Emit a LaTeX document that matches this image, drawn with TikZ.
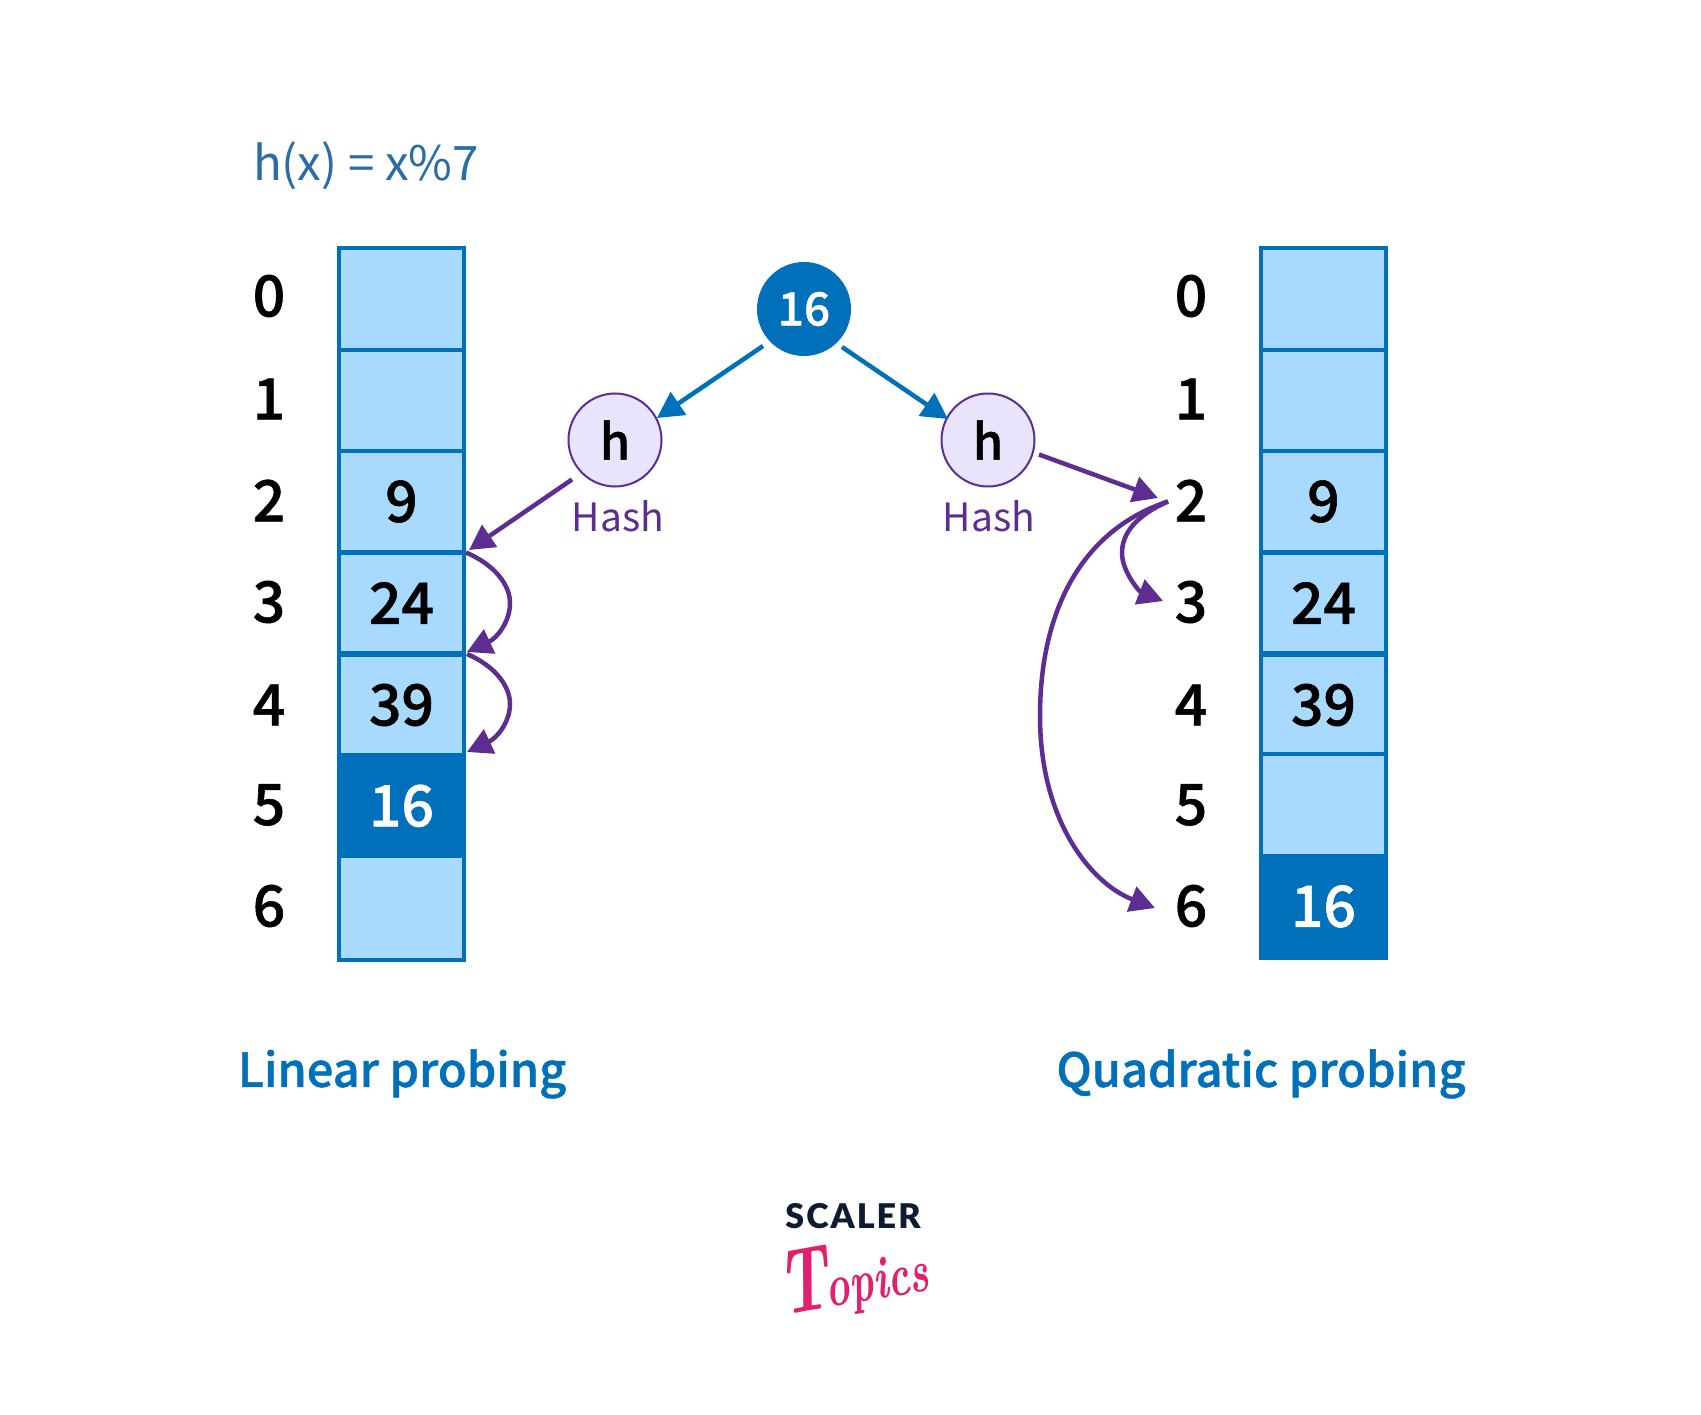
\documentclass[tikz,border=0pt]{standalone}
\usepackage{fontspec}
\setmainfont{Noto Sans CJK SC}
\newfontfamily\medf[FakeBold=1]{Noto Sans CJK SC Medium}
\newfontfamily\logof[LetterSpace=6]{Lato Black}
\newfontfamily\scriptf{Latin Modern Roman}[ItalicFont={Latin Modern Roman/BI}]
\usetikzlibrary{arrows.meta}
\definecolor{cellfill}{HTML}{A8DAFF}
\definecolor{blueline}{HTML}{0070BA}
\definecolor{purp}{HTML}{5E2D91}
\definecolor{hfill}{HTML}{E8E4FB}
\definecolor{formula}{HTML}{2A6CA5}
\definecolor{logodark}{HTML}{0D1B33}
\definecolor{logopink}{HTML}{E0206F}
\tikzset{
  x=1pt,y=-1pt,
  cellbox/.style={draw=blueline,line width=4.5pt,fill=cellfill,minimum width=125pt,inner sep=0pt,outer sep=0pt,font=\medf\fontsize{57}{57}\selectfont,text=black},
  darkbox/.style={cellbox,fill=blueline,text=white},
  idx/.style={inner sep=0pt,font=\medf\fontsize{57}{57}\selectfont,text=black},
  hcircle/.style={circle,draw=purp,line width=2pt,fill=hfill,minimum size=93pt,inner sep=0pt,outer sep=0pt,font=\medf\fontsize{49}{49}\selectfont,text=black},
  valcircle/.style={circle,fill=blueline,minimum size=94pt,inner sep=0pt,outer sep=0pt,font=\medf\fontsize{46}{46}\selectfont,text=white},
  hashlabel/.style={inner sep=0pt,text=purp,font=\fontsize{39}{39}\selectfont},
  title/.style={inner sep=0pt,text=blueline,font=\medf\fontsize{47}{47}\selectfont},
  bluearrow/.style={blueline,line width=4.5pt,-{Triangle[length=26pt,width=27pt]}},
  purparrow/.style={purp,line width=4.5pt,-{Triangle[length=25pt,width=26pt]}},
}
\begin{document}
\begin{tikzpicture}
\useasboundingbox[fill=white] (0,0) rectangle (1701,1415);

\node[inner sep=0pt,text=formula,font=\fontsize{47.5}{47.5}\selectfont] (formula) at (366,166) {h(x) = x\%7};

% left table
\node[cellbox,minimum height=102pt] (L0) at (401.5,299) {};
\node[cellbox,minimum height=101pt] (L1) at (401.5,400.5) {};
\node[cellbox,minimum height=101.5pt] (L2) at (401.5,501.5) {9};
\node[cellbox,minimum height=100.5pt] (L3) at (401.5,603) {24};
\node[cellbox,minimum height=100.5pt] (L4) at (401.5,705) {39};
\node[cellbox,minimum height=104pt] (L6) at (401.5,908) {};
\node[darkbox,minimum height=100pt] (L5) at (401.5,806) {\raisebox{1pt}{16}};

% right table
\node[cellbox,minimum height=102pt] (R0) at (1323.5,299) {};
\node[cellbox,minimum height=101pt] (R1) at (1323.5,400.5) {};
\node[cellbox,minimum height=101.5pt] (R2) at (1323.5,501.5) {9};
\node[cellbox,minimum height=100.5pt] (R3) at (1323.5,603) {24};
\node[cellbox,minimum height=100.5pt] (R4) at (1323.5,705) {39};
\node[cellbox,minimum height=102.5pt] (R5) at (1323.5,805) {};
\node[darkbox,minimum height=100pt] (R6) at (1323.5,908) {\raisebox{4pt}{16}};

% indices
\foreach \i/\yy in {0/296,1/399,2/500.5,3/602,4/705,5/805,6/906}{
  \node[idx] (LI\i) at (269,\yy) {\i};
  \node[idx] (RI\i) at (1191,\yy) {\i};
}

\node[valcircle] (val) at (804,309) {16};
\node[hcircle] (hL) at (615,440) {h};
\node[hcircle] (hR) at (988,440) {h};
\node[hashlabel] (hashL) at (618,516) {Hash};
\node[hashlabel] (hashR) at (989,516) {Hash};

\node[title] (linear) at (402,1074) {Linear probing};
\node[title] (quad) at (1261,1074) {Quadratic probing};

\node[inner sep=0pt,text=logodark,font=\logof\fontsize{34}{34}\selectfont] (scaler) at (853,1216) {SCALER};
\node[inner sep=0pt,text=logopink,rotate=10,xscale=.68,font=\scriptf\itshape\fontsize{60}{60}\selectfont] (topics) at (853,1278) {\fontsize{92}{92}\selectfont T\kern-6pt\fontsize{60}{60}\selectfont opics};

% connector ends
\coordinate (valL) at (763,346);
\coordinate (valR) at (842,347);
\coordinate (hLin) at (657,418);
\coordinate (hRin) at (948,419);
\coordinate (hLout) at (572,479.5);
\coordinate (hRout) at (1039,454.5);
\coordinate (t3top) at (469,550);
\coordinate (s3) at (466,552.5);
\coordinate (t3) at (467,652);
\coordinate (s4) at (467,654);
\coordinate (t4) at (467,752);
\coordinate (t2) at (1158,498);
\coordinate (q2) at (1168,501.5);
\coordinate (q3) at (1163,601);
\coordinate (q6) at (1155,908);

\draw[bluearrow] (valL) -- (hLin);
\draw[bluearrow] (valR) -- (hRin);
\draw[purparrow] (hLout) -- (t3top);
\draw[purparrow] (hRout) -- (t2);
\draw[purparrow] (s3) .. controls (495,565) and (510,585) .. (510,603) .. controls (510,622) and (497,638) .. (t3);
\draw[purparrow] (s4) .. controls (495,666) and (510,686) .. (510,704) .. controls (510,722) and (497,738) .. (t4);
\draw[purparrow] (q2) .. controls (1135,516) and (1122,534) .. (1122,553) .. controls (1122,572) and (1140,592) .. (q3);
\draw[purparrow] (q2) .. controls (1082,530) and (1040,610) .. (1040,716) .. controls (1040,822) and (1092,884) .. (q6);
\end{tikzpicture}
\end{document}
